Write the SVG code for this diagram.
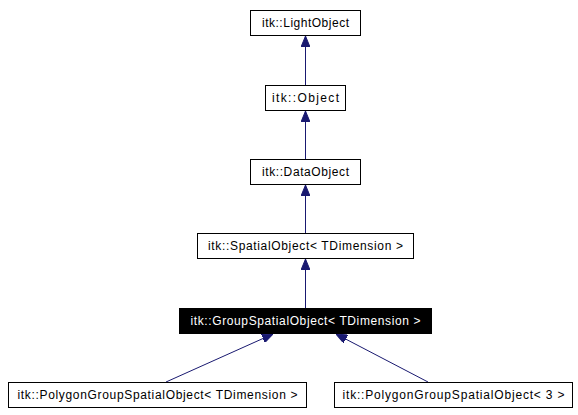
<svg xmlns="http://www.w3.org/2000/svg" width="578" height="415" viewBox="0 0 578 415">
<style>
.box{fill:#fff;stroke:#000;stroke-width:1}
.sel{fill:#000;stroke:#000;stroke-width:1}
.t{font-family:"Liberation Sans",Arial,sans-serif;font-size:12px;text-anchor:middle;fill:#000}
.tw{font-family:"Liberation Sans",Arial,sans-serif;font-size:12px;text-anchor:middle;fill:#fff}
.e{stroke:#191970;stroke-width:1;fill:none;marker-end:url(#ah)}
</style>
<defs>
<marker id="ah" markerUnits="userSpaceOnUse" markerWidth="11" markerHeight="9" refX="11" refY="4.5" orient="auto" viewBox="0 0 11 9">
<path d="M0,0 L11,4.5 L0,9 z" fill="#191970" stroke="#191970"/>
</marker>
</defs>
<g id="edges">
<line class="e" x1="305.5" y1="85" x2="305.5" y2="36"/>
<line class="e" x1="305.5" y1="159" x2="305.5" y2="111"/>
<line class="e" x1="305.5" y1="233" x2="305.5" y2="185"/>
<line class="e" x1="305.5" y1="308" x2="305.5" y2="259"/>
<line class="e" x1="166" y1="382" x2="273" y2="334"/>
<line class="e" x1="428" y1="382" x2="336" y2="334"/>
</g>
<g id="n_lightobject">
<rect class="box" x="250.5" y="10.5" width="110" height="25"/>
<text class="t" x="305.5" y="27" textLength="87" lengthAdjust="spacing">itk::LightObject</text>
</g>
<g id="n_object">
<rect class="box" x="265.5" y="85.5" width="80" height="25"/>
<text class="t" x="305.5" y="102" textLength="67" lengthAdjust="spacing">itk::Object</text>
</g>
<g id="n_dataobject">
<rect class="box" x="250.5" y="159.5" width="110" height="25"/>
<text class="t" x="305.5" y="176" textLength="87" lengthAdjust="spacing">itk::DataObject</text>
</g>
<g id="n_spatialobject">
<rect class="box" x="197.5" y="233.5" width="216" height="25"/>
<text class="t" x="305.5" y="250" textLength="195" lengthAdjust="spacing">itk::SpatialObject&lt; TDimension &gt;</text>
</g>
<g id="n_groupspatialobject">
<rect class="sel" x="179.5" y="308.5" width="252" height="25"/>
<text class="tw" x="305.5" y="325" textLength="230" lengthAdjust="spacing">itk::GroupSpatialObject&lt; TDimension &gt;</text>
</g>
<g id="n_polygongroup_tdim">
<rect class="box" x="8.5" y="382.5" width="298" height="25"/>
<text class="t" x="157.5" y="399" textLength="280" lengthAdjust="spacing">itk::PolygonGroupSpatialObject&lt; TDimension &gt;</text>
</g>
<g id="n_polygongroup_3">
<rect class="box" x="334.5" y="382.5" width="238" height="25"/>
<text class="t" x="453.5" y="399" textLength="222" lengthAdjust="spacing">itk::PolygonGroupSpatialObject&lt; 3 &gt;</text>
</g>
</svg>
